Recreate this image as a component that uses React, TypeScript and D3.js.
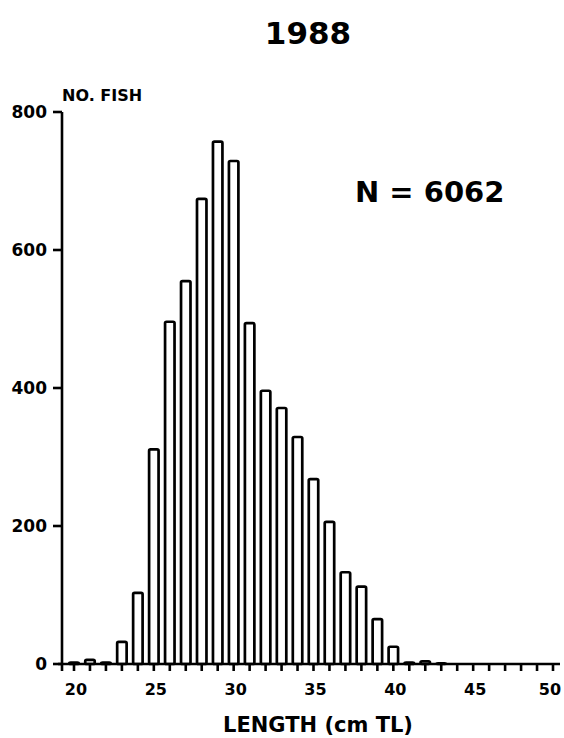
import { useEffect, useRef } from "react";
import * as d3 from "d3";

// length classes (cm TL) and number of fish in each
const lengths = [20, 21, 22, 23, 24, 25, 26, 27, 28, 29, 30, 31, 32, 33, 34, 35, 36, 37, 38, 39, 40, 41, 42, 43];
const counts = [2, 6, 2, 32, 103, 311, 496, 555, 674, 757, 729, 494, 396, 371, 329, 268, 206, 133, 112, 65, 25, 2, 4, 1];
const yTicks = [0, 200, 400, 600, 800];
const xLabels = [20, 25, 30, 35, 40, 45, 50];

export default function App() {
  const svgRef = useRef<SVGSVGElement>(null);

  useEffect(() => {
    const width = 564;
    const height = 738;
    const svg = d3.select(svgRef.current);
    svg.selectAll("*").remove();
    svg.attr("viewBox", `0 0 ${width} ${height}`);

    const font = "'DejaVu Sans', sans-serif";

    svg.append("rect").attr("width", width).attr("height", height).attr("fill", "#fff");

    const x = d3.scaleLinear().domain([20, 50]).range([74, 553]);
    const y = d3.scaleLinear().domain([0, 800]).range([664, 112]);
    const axisLeft = 62;
    const barW = x(1) - x(0) - 6.5;

    // bars
    svg.append("g")
      .selectAll("rect")
      .data(lengths.map((l, i) => ({ l, v: counts[i] })))
      .join("rect")
      .attr("x", d => x(d.l) - barW / 2)
      .attr("y", d => y(d.v))
      .attr("width", barW)
      .attr("height", d => y(0) - y(d.v))
      .attr("rx", 1.5)
      .attr("fill", "#fff")
      .attr("stroke", "#000")
      .attr("stroke-width", 2.7)
      .attr("stroke-linejoin", "round");

    // x axis
    const xg = svg.append("g").attr("stroke", "#000").attr("stroke-width", 2.6);
    xg.append("line")
      .attr("x1", axisLeft - 4).attr("x2", 560)
      .attr("y1", y(0)).attr("y2", y(0));
    xg.selectAll("line.tick")
      .data(d3.range(20, 51))
      .join("line")
      .attr("class", "tick")
      .attr("x1", d => x(d)).attr("x2", d => x(d))
      .attr("y1", y(0)).attr("y2", y(0) + 7);

    svg.append("g")
      .selectAll("text")
      .data(xLabels)
      .join("text")
      .attr("x", d => Math.min(x(d) + 2, 550))
      .attr("y", 695)
      .attr("text-anchor", "middle")
      .attr("font-family", font)
      .attr("font-weight", "bold")
      .attr("font-size", 16)
      .text(d => d);

    // y axis
    const yg = svg.append("g").attr("stroke", "#000").attr("stroke-width", 2.6);
    yg.append("line")
      .attr("x1", axisLeft).attr("x2", axisLeft)
      .attr("y1", y(800)).attr("y2", y(0) + 7);
    yg.selectAll("line.tick")
      .data(yTicks)
      .join("line")
      .attr("class", "tick")
      .attr("x1", axisLeft - 9).attr("x2", axisLeft)
      .attr("y1", d => y(d)).attr("y2", d => y(d));

    svg.append("g")
      .selectAll("text")
      .data(yTicks)
      .join("text")
      .attr("x", 47)
      .attr("y", d => y(d) + 6)
      .attr("text-anchor", "end")
      .attr("font-family", font)
      .attr("font-weight", "bold")
      .attr("font-size", 17)
      .text(d => d);

    // texts
    const txt = (t: string, tx: number, ty: number, size: number, anchor: string) =>
      svg.append("text")
        .attr("x", tx).attr("y", ty)
        .attr("text-anchor", anchor)
        .attr("font-family", font)
        .attr("font-weight", "bold")
        .attr("font-size", size)
        .text(t);

    txt("1988", 308, 44, 31, "middle");
    txt("NO. FISH", 62, 101, 16, "start");
    txt("N = 6062", 355, 202, 29, "start");
    txt("LENGTH (cm TL)", 318, 732, 21, "middle");
  }, []);

  return (
    <svg
      ref={svgRef}
      width={564}
      height={738}
      style={{ position: "absolute", left: 0, top: 0 }}
    />
  );
}
